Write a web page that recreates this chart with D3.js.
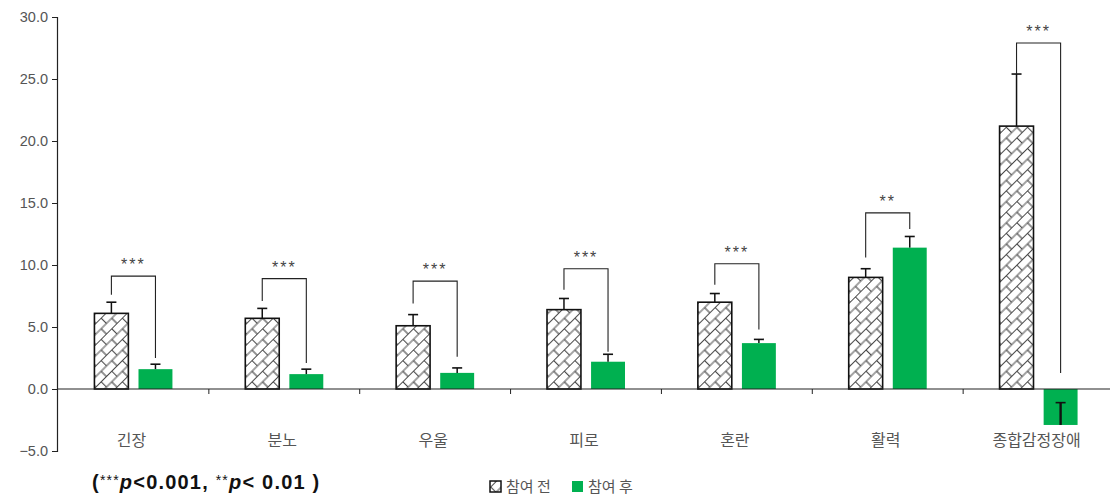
<!DOCTYPE html>
<html>
<head>
<meta charset="utf-8">
<script src="https://cdn.jsdelivr.net/npm/d3@7"></script>
<style>
  body { margin: 0; background: #fff; }
  svg { font-family: "Liberation Sans", Arial, sans-serif; }
</style>
</head>
<body>
<svg id="chart"></svg>
<script>
// values
const categories = ["긴장", "분노", "우울", "피로", "혼란", "활력", "종합감정장애"];
const series = ["참여 전", "참여 후"];
const preMean = [6.1, 5.7, 5.1, 6.4, 7.0, 9.0, 21.2];
const preSD = [0.9, 0.8, 0.9, 0.9, 0.7, 0.7, 4.2];
const postMean = [1.6, 1.2, 1.3, 2.2, 3.7, 11.4, -2.9];
const postSD = [0.4, 0.4, 0.4, 0.6, 0.3, 0.9, 1.8];
const sigLabels = ["***", "***", "***", "***", "***", "**", "***"];
const bracketTop = [9.1, 8.9, 8.7, 9.7, 10.1, 14.2, 27.9];
const bracketLeftEnd = [7.6, 7.1, 6.9, 8.0, 8.4, 10.6, 25.4];
const bracketRightEnd = [2.5, 2.1, 2.6, 3.0, 4.8, 12.9, 1.3];
const yTicks = [-5, 0, 5, 10, 15, 20, 25, 30];
const footnote = [
  { t: "(", kind: "n" }, { t: "***", kind: "s" }, { t: "p", kind: "i" },
  { t: "<0.001, ", kind: "n" }, { t: "**", kind: "s" }, { t: "p", kind: "i" },
  { t: "< 0.01 )", kind: "n" }
];

const width = 1114, height = 496;
const green = "#00b050";

const svg = d3.select("#chart").attr("width", width).attr("height", height);

// brick-like diagonal hatch for the "before" bars
const defs = svg.append("defs");
const pat = defs.append("pattern")
  .attr("id", "hatch")
  .attr("patternUnits", "userSpaceOnUse")
  .attr("width", 15).attr("height", 15)
  .attr("patternTransform", "rotate(-45)");
pat.append("rect").attr("width", 15).attr("height", 15).attr("fill", "#fff");
pat.append("path")
  .attr("d", "M0,0.5H15M0,8H15M0.5,0V7.5M8,7.5V15")
  .attr("stroke", "#4a4a4a").attr("stroke-width", 1.2).attr("fill", "none");

const y = d3.scaleLinear().domain([-5, 30]).range([451, 17]);
const x = d3.scaleBand().domain(categories).range([58, 1114]);
const bw = x.bandwidth();
const x1 = d3.scaleBand().domain(series).range([bw / 2 - 39, bw / 2 + 39]).paddingInner(0.23);

const data = categories.map((c, i) => ({
  cat: c,
  values: [
    { key: series[0], mean: preMean[i], sd: preSD[i] },
    { key: series[1], mean: postMean[i], sd: postSD[i] }
  ],
  sig: sigLabels[i],
  top: bracketTop[i],
  lEnd: bracketLeftEnd[i],
  rEnd: bracketRightEnd[i]
}));

// y axis
const yAxis = d3.axisLeft(y).tickValues(yTicks).tickSize(5).tickFormat(d3.format(".1f"));
const yg = svg.append("g").attr("transform", "translate(57,0)").call(yAxis);
yg.select(".domain").attr("stroke", "#222").attr("stroke-width", 1.2);
yg.selectAll(".tick line").attr("stroke", "#222");
yg.selectAll(".tick text").attr("fill", "#555").attr("font-size", 14.5).attr("x", -9);

// groups
const groups = svg.append("g").selectAll("g")
  .data(data).join("g")
  .attr("transform", d => `translate(${x(d.cat)},0)`);

groups.selectAll("rect")
  .data(d => d.values).join("rect")
  .attr("x", d => x1(d.key))
  .attr("width", x1.bandwidth())
  .attr("y", d => y(Math.max(0, d.mean)))
  .attr("height", d => Math.abs(y(d.mean) - y(0)))
  .attr("fill", (d, i) => i === 0 ? "url(#hatch)" : green)
  .attr("stroke", (d, i) => i === 0 ? "#111" : "none")
  .attr("stroke-width", 1.6);

// error bars
const err = groups.selectAll("g.err")
  .data(d => d.values).join("g").attr("class", "err");
err.append("line")
  .attr("x1", d => x1(d.key) + x1.bandwidth() / 2)
  .attr("x2", d => x1(d.key) + x1.bandwidth() / 2)
  .attr("y1", d => y(d.mean))
  .attr("y2", d => y(d.mean + d.sd))
  .attr("stroke", "#111")
  .attr("stroke-width", d => d.mean < 0 ? 2.4 : 1.5);
err.append("line")
  .attr("x1", d => x1(d.key) + x1.bandwidth() / 2 - 5)
  .attr("x2", d => x1(d.key) + x1.bandwidth() / 2 + 5)
  .attr("y1", d => y(d.mean + d.sd))
  .attr("y2", d => y(d.mean + d.sd))
  .attr("stroke", "#111")
  .attr("stroke-width", 1.6);

// baseline with category ticks
svg.append("line")
  .attr("x1", 57).attr("x2", 1110)
  .attr("y1", y(0)).attr("y2", y(0))
  .attr("stroke", "#222").attr("stroke-width", 1.2);
svg.append("g").selectAll("line")
  .data(categories.slice(1)).join("line")
  .attr("x1", d => x(d)).attr("x2", d => x(d))
  .attr("y1", y(0)).attr("y2", y(0) + 5)
  .attr("stroke", "#222");

// significance brackets
const cx0 = x1(series[0]) + x1.bandwidth() / 2;
const cx1 = x1(series[1]) + x1.bandwidth() / 2;
groups.append("path")
  .attr("d", d => `M${cx0},${y(d.lEnd)}V${y(d.top)}H${cx1}V${y(d.rEnd)}`)
  .attr("fill", "none")
  .attr("stroke", "#222")
  .attr("stroke-width", 1.1);
groups.append("text")
  .attr("x", (cx0 + cx1) / 2)
  .attr("y", d => y(d.top) - 6)
  .attr("text-anchor", "middle")
  .attr("font-size", 16)
  .attr("letter-spacing", 2)
  .attr("fill", "#444")
  .text(d => d.sig);

// category labels
svg.append("g").selectAll("text")
  .data(categories).join("text")
  .attr("x", d => x(d) + bw / 2 - 2)
  .attr("y", 446)
  .attr("text-anchor", "middle")
  .attr("font-family", "'Noto Sans CJK KR', sans-serif")
  .attr("font-size", 16)
  .attr("fill", "#555")
  .text(d => d);

// footnote
const fn = svg.append("text")
  .attr("x", 92).attr("y", 489)
  .attr("font-size", 20).attr("font-weight", "bold").attr("fill", "#111")
  .attr("letter-spacing", 1.2);
fn.selectAll("tspan")
  .data(footnote).join("tspan")
  .attr("font-style", d => d.kind === "i" ? "italic" : "normal")
  .attr("font-size", d => d.kind === "s" ? 14 : 20)
  .attr("font-weight", d => d.kind === "s" ? "normal" : "bold")
  .attr("dy", (d, i) => d.kind === "s" ? -4 : (i > 0 && footnote[i - 1].kind === "s" ? 4 : 0))
  .text(d => d.t);

// legend
const legend = svg.append("g").attr("transform", "translate(490,487)");
const li = legend.selectAll("g")
  .data(series).join("g")
  .attr("transform", (d, i) => `translate(${i * 82},0)`);
li.append("rect")
  .attr("x", 0).attr("y", -6).attr("width", 11).attr("height", 11)
  .attr("fill", (d, i) => i === 0 ? "url(#hatch)" : green)
  .attr("stroke", (d, i) => i === 0 ? "#111" : "none")
  .attr("stroke-width", 1.5);
li.append("text")
  .attr("x", 16).attr("y", 5)
  .attr("font-family", "'Noto Sans CJK KR', sans-serif")
  .attr("font-size", 15)
  .attr("fill", "#555")
  .text(d => d);
</script>
</body>
</html>
